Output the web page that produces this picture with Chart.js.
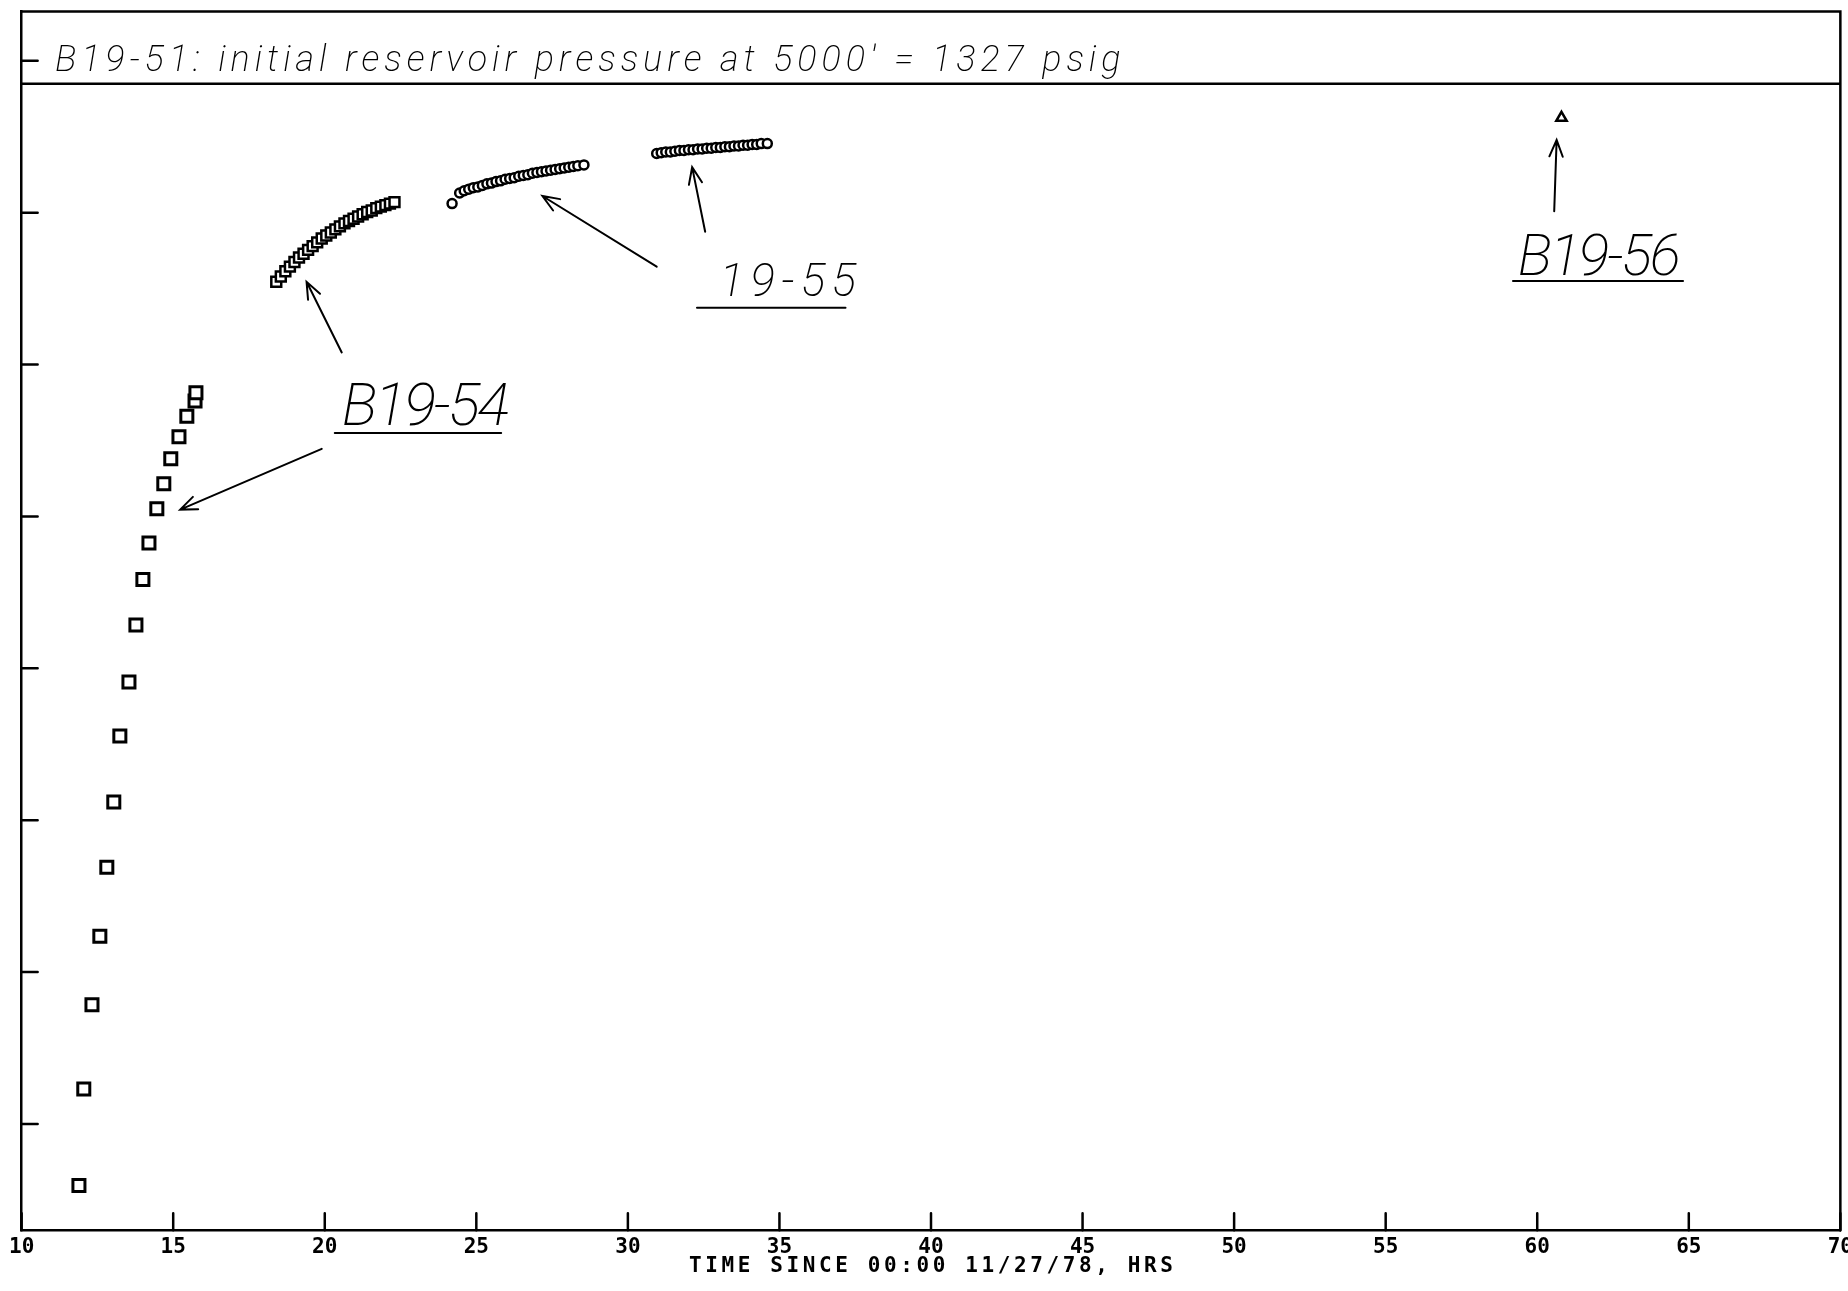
<!DOCTYPE html>
<html>
<head>
<meta charset="utf-8">
<script src="https://cdn.jsdelivr.net/npm/chart.js@4.4.0/dist/chart.umd.min.js"></script>
<style>
  html, body { margin: 0; padding: 0; background: #fff; overflow: hidden; }
  #wrap { width: 1862px; height: 1291px; }
</style>
</head>
<body>
<div id="wrap"><canvas id="chart"></canvas></div>
<script>
// B19-54, first part of the build-up (large squares)
const b54EarlyHrs  = [11.89, 12.05, 12.32, 12.58, 12.81, 13.04, 13.24, 13.54, 13.77, 14.00, 14.20, 14.46, 14.69, 14.92, 15.19, 15.45, 15.72, 15.75];
const b54EarlyPsig = [1181.9, 1194.6, 1205.7, 1214.7, 1223.8, 1232.4, 1241.1, 1248.2, 1255.7, 1261.7, 1266.5, 1271.0, 1274.3, 1277.6, 1280.5, 1283.2, 1285.2, 1286.3];

// B19-54, later readings (small squares)
const b54LateHrs  = [18.40, 18.55, 18.70, 18.85, 19.00, 19.15, 19.30, 19.45, 19.60, 19.75, 19.90, 20.05, 20.20, 20.35,
                     20.50, 20.65, 20.80, 20.95, 21.10, 21.25, 21.40, 21.55, 21.70, 21.85, 22.00, 22.15, 22.30];
const b54LatePsig = [1300.9, 1301.6, 1302.3, 1302.9, 1303.5, 1304.1, 1304.6, 1305.1, 1305.6, 1306.1, 1306.6, 1307.0, 1307.4, 1307.8,
                     1308.2, 1308.6, 1308.9, 1309.2, 1309.5, 1309.8, 1310.1, 1310.3, 1310.6, 1310.8, 1311.0, 1311.2, 1311.4];

// 19-55, two runs (circles)
const w55aHrs  = [24.20, 24.45, 24.60, 24.75, 24.90, 25.05, 25.20, 25.35, 25.50, 25.65, 25.80, 25.95, 26.10, 26.25, 26.40,
                  26.55, 26.70, 26.85, 27.00, 27.15, 27.30, 27.45, 27.60, 27.75, 27.90, 28.05, 28.20, 28.35, 28.55];
const w55aPsig = [1311.2, 1312.6, 1312.9, 1313.1, 1313.3, 1313.4, 1313.6, 1313.8, 1313.9, 1314.1, 1314.2, 1314.4, 1314.5, 1314.6, 1314.8,
                  1314.9, 1315.0, 1315.2, 1315.3, 1315.4, 1315.5, 1315.6, 1315.7, 1315.8, 1315.9, 1316.0, 1316.1, 1316.2, 1316.3];
const w55bHrs  = [30.95, 31.10, 31.25, 31.40, 31.55, 31.70, 31.85, 32.00, 32.15, 32.30, 32.45, 32.60, 32.75,
                  32.90, 33.05, 33.20, 33.35, 33.50, 33.65, 33.80, 33.95, 34.10, 34.25, 34.40, 34.60];
const w55bPsig = [1317.8, 1317.9, 1318.0, 1318.0, 1318.1, 1318.2, 1318.2, 1318.3, 1318.3, 1318.4, 1318.4, 1318.5, 1318.5,
                  1318.6, 1318.6, 1318.7, 1318.7, 1318.8, 1318.8, 1318.9, 1318.9, 1319.0, 1319.0, 1319.1, 1319.1];

// B19-56 (triangle)
const b56Hrs  = [60.8];
const b56Psig = [1322.5];

// B19-51 initial reservoir pressure line
const reservoirHrs  = [10, 70];
const reservoirPsig = [1327, 1327];

const xTicks = [10, 15, 20, 25, 30, 35, 40, 45, 50, 55, 60, 65, 70];
const yTicks = [1190, 1210, 1230, 1250, 1270, 1290, 1310, 1330];
const xTitle = 'TIME SINCE 00:00 11/27/78, HRS';

const pts = (xs, ys) => xs.map((x, i) => ({ x: x, y: ys[i] }));

// hand-written notes, placed in data units
const notes = [
  { text: "B19-51: initial reservoir pressure at 5000' = 1327 psig", x0: 11.1, x1: 46.25, y: 1328.6, size: 36 },
  { text: 'B19-54', x0: 20.56, x1: 26.09, y: 1282.0, size: 60 },
  { text: '19-55', x0: 33.02, x1: 37.53, y: 1299.0, size: 46 },
  { text: 'B19-56', x0: 59.36, x1: 64.73, y: 1301.8, size: 58 }
];
const underlines = [
  { x0: 20.33, x1: 25.82, y: 1281.0 },
  { x0: 32.28, x1: 37.18, y: 1297.5 },
  { x0: 59.20, x1: 64.81, y: 1301.0 }
];
const arrows = [
  { from: [20.56, 1291.6], to: [19.40, 1300.9] },
  { from: [19.90, 1278.9], to: [15.23, 1270.9] },
  { from: [30.95, 1302.9], to: [27.18, 1312.2] },
  { from: [32.55, 1307.5], to: [32.12, 1316.0] },
  { from: [60.56, 1310.2], to: [60.64, 1319.6] }
];

const handFont = '"Roboto", "DejaVu Sans", sans-serif';
const monoFont = '"DejaVu Sans Mono", "Liberation Mono", monospace';

// draw a string spread to a given width, char by char
function spreadText(ctx, text, left, right, base) {
  const chars = text.split('');
  const widths = chars.map(c => ctx.measureText(c).width);
  const total = widths.reduce((s, w) => s + w, 0);
  const gap = (right - left - total) / (chars.length - 1);
  let cx = left;
  chars.forEach((c, i) => {
    ctx.fillText(c, cx, base);
    cx += widths[i] + gap;
  });
}

const framePlugin = {
  id: 'frame',
  afterDraw(chart) {
    const { ctx, chartArea: a, scales: { x, y } } = chart;
    ctx.save();
    ctx.strokeStyle = '#000';
    ctx.fillStyle = '#000';
    ctx.lineCap = 'round';

    // top + right edge of the box
    ctx.lineWidth = 2.5;
    ctx.beginPath();
    ctx.moveTo(a.left, a.top);
    ctx.lineTo(a.right, a.top);
    ctx.lineTo(a.right, a.bottom);
    ctx.stroke();

    // tick marks point into the plot
    ctx.beginPath();
    x.ticks.forEach(t => {
      const px = x.getPixelForValue(t.value);
      ctx.moveTo(px, a.bottom);
      ctx.lineTo(px, a.bottom - 17);
    });
    y.ticks.forEach(t => {
      const py = y.getPixelForValue(t.value);
      ctx.moveTo(a.left, py);
      ctx.lineTo(a.left + 16, py);
    });
    ctx.stroke();

    // axis title, plotter style (wide spacing)
    ctx.textBaseline = 'alphabetic';
    ctx.font = 'bold 21px ' + monoFont;
    const mid = (a.left + a.right) / 2;
    spreadText(ctx, xTitle, mid - 242, mid + 242, a.bottom + 42);

    // notes
    notes.forEach(n => {
      ctx.font = 'italic 200 ' + n.size + 'px ' + handFont;
      spreadText(ctx, n.text, x.getPixelForValue(n.x0), x.getPixelForValue(n.x1), y.getPixelForValue(n.y));
    });

    ctx.lineWidth = 2;
    ctx.beginPath();
    underlines.forEach(u => {
      const py = y.getPixelForValue(u.y);
      ctx.moveTo(x.getPixelForValue(u.x0), py);
      ctx.lineTo(x.getPixelForValue(u.x1), py);
    });
    ctx.stroke();

    arrows.forEach(ar => {
      const x1 = x.getPixelForValue(ar.from[0]), y1 = y.getPixelForValue(ar.from[1]);
      const x2 = x.getPixelForValue(ar.to[0]),   y2 = y.getPixelForValue(ar.to[1]);
      const ang = Math.atan2(y2 - y1, x2 - x1);
      const head = 18, spread = 0.38;
      ctx.beginPath();
      ctx.moveTo(x1, y1);
      ctx.lineTo(x2, y2);
      ctx.moveTo(x2 - head * Math.cos(ang - spread), y2 - head * Math.sin(ang - spread));
      ctx.lineTo(x2, y2);
      ctx.lineTo(x2 - head * Math.cos(ang + spread), y2 - head * Math.sin(ang + spread));
      ctx.stroke();
    });
    ctx.restore();
  }
};

new Chart(document.getElementById('chart'), {
  type: 'scatter',
  data: {
    datasets: [
      {
        label: 'B19-51 initial',
        type: 'line',
        data: pts(reservoirHrs, reservoirPsig),
        borderColor: '#000',
        borderWidth: 2.5,
        pointRadius: 0
      },
      {
        label: 'B19-54',
        data: pts(b54EarlyHrs, b54EarlyPsig),
        pointStyle: 'rect',
        pointRadius: 8.5,
        borderWidth: 3,
        borderColor: '#000',
        backgroundColor: '#fff'
      },
      {
        label: 'B19-54 late',
        data: pts(b54LateHrs, b54LatePsig),
        pointStyle: 'rect',
        pointRadius: 7,
        borderWidth: 2.5,
        borderColor: '#000',
        backgroundColor: '#fff'
      },
      {
        label: '19-55 a',
        data: pts(w55aHrs, w55aPsig),
        pointStyle: 'circle',
        pointRadius: 4.5,
        borderWidth: 2.5,
        borderColor: '#000',
        backgroundColor: '#fff'
      },
      {
        label: '19-55 b',
        data: pts(w55bHrs, w55bPsig),
        pointStyle: 'circle',
        pointRadius: 4.5,
        borderWidth: 2.5,
        borderColor: '#000',
        backgroundColor: '#fff'
      },
      {
        label: 'B19-56',
        data: pts(b56Hrs, b56Psig),
        pointStyle: 'triangle',
        pointRadius: 6,
        borderWidth: 2.5,
        borderColor: '#000',
        backgroundColor: '#fff'
      }
    ]
  },
  options: {
    responsive: true,
    maintainAspectRatio: false,
    animation: false,
    layout: { padding: { left: 19, top: 7, right: 0, bottom: 26 } },
    plugins: {
      legend: { display: false },
      tooltip: { enabled: false }
    },
    scales: {
      x: {
        type: 'linear',
        min: 10,
        max: 70,
        afterBuildTicks: s => { s.ticks = xTicks.map(v => ({ value: v })); },
        grid: { display: false, drawTicks: false },
        border: { display: true, color: '#000', width: 2.5 },
        ticks: {
          color: '#000',
          padding: 9,
          maxRotation: 0,
          autoSkip: false,
          font: { family: monoFont, size: 21, weight: 'bold', lineHeight: 0.8 }
        },
        title: { display: false }
      },
      y: {
        min: 1176,
        max: 1336.5,
        afterBuildTicks: s => { s.ticks = yTicks.map(v => ({ value: v })); },
        grid: { display: false, drawTicks: false },
        border: { display: true, color: '#000', width: 2.5 },
        ticks: { display: false }
      }
    }
  },
  plugins: [framePlugin]
});
</script>
</body>
</html>
